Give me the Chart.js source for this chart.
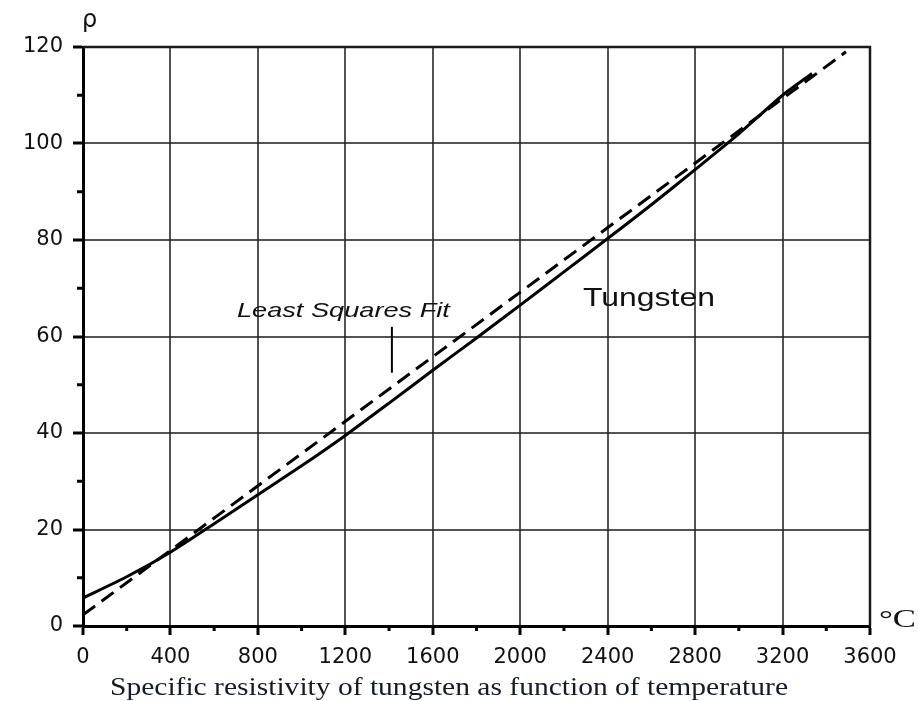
<!DOCTYPE html>
<html>
<head>
<meta charset="utf-8">
<script src="https://cdn.jsdelivr.net/npm/chart.js@4/dist/chart.umd.min.js"></script>
<style>
  html, body { margin: 0; padding: 0; background: #fff; }
  #wrap { width: 918px; height: 701px; }
</style>
</head>
<body>
<div id="wrap"><canvas id="myChart" width="918" height="701"></canvas></div>
<script>
// values
const tempC = [0, 200, 400, 600, 800, 1000, 1200, 1400, 1600, 1800, 2000, 2200, 2400, 2600, 2800, 3000, 3200, 3335];
const tungstenRho = [5.8, 10.2, 15.3, 21.2, 27.2, 33.2, 39.5, 46.2, 53.0, 59.7, 66.5, 73.4, 80.3, 87.3, 94.6, 102.0, 110.0, 114.5];
const fitTempC = [0, 3490];
const fitRho = [2.3, 119];
const xMinorTicks = [200, 600, 1000, 1400, 1800, 2200, 2600, 3000, 3400];
const yMinorTicks = [10, 30, 50, 70, 90, 110];

const toPoints = (xs, ys) => xs.map((x, i) => ({ x: x, y: ys[i] }));

// draws text squeezed/stretched to a given width
function fitText(ctx, text, x, y, width) {
  const w = ctx.measureText(text).width;
  ctx.save();
  ctx.translate(x, y);
  ctx.scale(width / w, 1);
  ctx.fillText(text, 0, 0);
  ctx.restore();
}

const extras = {
  id: "extras",
  afterDraw(chart) {
    const { ctx, chartArea: a, scales: { x, y } } = chart;
    ctx.save();

    // frame top + right
    ctx.strokeStyle = "#1a1a1a";
    ctx.lineWidth = 2.5;
    ctx.beginPath();
    ctx.moveTo(a.left, a.top);
    ctx.lineTo(a.right, a.top);
    ctx.lineTo(a.right, a.bottom);
    ctx.stroke();

    // minor ticks
    ctx.strokeStyle = "#000";
    ctx.lineWidth = 3;
    ctx.beginPath();
    yMinorTicks.forEach(v => {
      const py = y.getPixelForValue(v);
      ctx.moveTo(a.left - 6, py);
      ctx.lineTo(a.left, py);
    });
    xMinorTicks.forEach(v => {
      const px = x.getPixelForValue(v);
      ctx.moveTo(px, a.bottom);
      ctx.lineTo(px, a.bottom + 5);
    });
    ctx.stroke();

    // leader line for the fit label
    ctx.lineWidth = 2;
    ctx.beginPath();
    ctx.moveTo(x.getPixelForValue(1413), y.getPixelForValue(62));
    ctx.lineTo(x.getPixelForValue(1413), y.getPixelForValue(52.5));
    ctx.stroke();

    ctx.fillStyle = "#111";
    ctx.textBaseline = "alphabetic";
    ctx.textAlign = "left";

    ctx.font = "italic 21px 'Liberation Sans', Arial, sans-serif";
    fitText(ctx, "Least Squares Fit", x.getPixelForValue(704), y.getPixelForValue(64), 213);

    ctx.font = "26px 'Liberation Sans', Arial, sans-serif";
    fitText(ctx, "Tungsten", x.getPixelForValue(2287), y.getPixelForValue(66.3), 132);

    ctx.font = "24px 'DejaVu Sans', sans-serif";
    ctx.fillText("ρ", 82, 27);

    ctx.font = "26px 'Liberation Serif', 'Times New Roman', serif";
    fitText(ctx, "°C", 879, 627, 37);

    ctx.fillStyle = "#15192c";
    ctx.font = "25px 'Liberation Serif', 'Times New Roman', serif";
    fitText(ctx, "Specific resistivity of tungsten as function of temperature", 110, 695, 678);

    ctx.restore();
  }
};

const tickFont = { family: "'DejaVu Sans', sans-serif", size: 21 };
const plain = v => String(v);

new Chart(document.getElementById("myChart"), {
  type: "scatter",
  data: {
    datasets: [
      {
        label: "Tungsten",
        data: toPoints(tempC, tungstenRho),
        showLine: true,
        borderColor: "#000",
        borderWidth: 3,
        pointRadius: 0,
        tension: 0.2
      },
      {
        label: "Least Squares Fit",
        data: toPoints(fitTempC, fitRho),
        showLine: true,
        borderColor: "#000",
        borderWidth: 3,
        borderDash: [15, 8],
        pointRadius: 0
      }
    ]
  },
  options: {
    responsive: false,
    animation: false,
    devicePixelRatio: 1,
    layout: { padding: { left: 0, top: 47, right: 48, bottom: 0 } },
    plugins: {
      legend: { display: false },
      tooltip: { enabled: false }
    },
    scales: {
      x: {
        type: "linear",
        min: 0,
        max: 3600,
        afterFit: s => { s.height = 75; },
        ticks: { stepSize: 400, font: tickFont, color: "#111", padding: 10, maxRotation: 0, callback: plain },
        grid: { color: "rgba(40,40,40,0.8)", lineWidth: 2, tickColor: "#000", tickLength: 9, tickWidth: 3 },
        border: { color: "#000", width: 3 }
      },
      y: {
        min: 0,
        max: 120,
        afterFit: s => { s.width = 83; },
        ticks: { stepSize: 20, font: tickFont, color: "#111", padding: 10, callback: plain },
        grid: { color: "rgba(40,40,40,0.8)", lineWidth: 2, tickColor: "#000", tickLength: 10, tickWidth: 3 },
        border: { color: "#000", width: 3 }
      }
    }
  },
  plugins: [extras]
});
</script>
</body>
</html>
